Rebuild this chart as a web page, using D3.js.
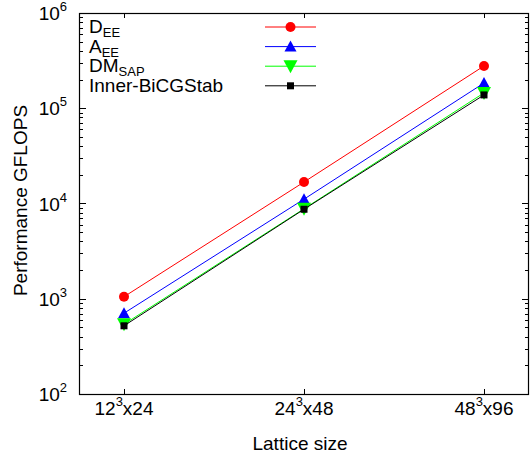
<!DOCTYPE html>
<html>
<head>
<meta charset="utf-8">
<script src="https://cdn.jsdelivr.net/npm/d3@7"></script>
<style>
  body { margin: 0; background: #fff; }
  text { font-family: "Liberation Sans", Arial, sans-serif; fill: #000; }
</style>
</head>
<body>
<div id="chart"></div>
<script>
// lattice sizes L^3 x T
var latticeSpace = ["12", "24", "48"];
var latticeTime = ["24", "48", "96"];

// series (name, subscript) and values in GFLOPS
var seriesMain = ["D", "A", "DM", "Inner-BiCGStab"];
var seriesSub = ["EE", "EE", "SAP", ""];
var seriesColor = ["#ff0000", "#0000ff", "#00ff00", "#000000"];
var seriesShape = ["circle", "up", "down", "square"];

var dEE = [1050, 16800, 278000];
var aEE = [705, 11100, 184000];
var dmSAP = [540, 8800, 145000];
var innerBiCG = [520, 8700, 138000];
var allValues = [dEE, aEE, dmSAP, innerBiCG];

var yTickExp = [2, 3, 4, 5, 6];

var svgWidth = 532, svgHeight = 457;
var margin = { top: 13, right: 3, bottom: 63, left: 79 };
var width = svgWidth - margin.left - margin.right;
var height = svgHeight - margin.top - margin.bottom;

var svg = d3.select("#chart").append("svg")
    .attr("width", svgWidth)
    .attr("height", svgHeight);

var g = svg.append("g")
    .attr("transform", `translate(${margin.left}, ${margin.top})`);

var x = d3.scalePoint()
    .domain(latticeSpace)
    .range([0, width])
    .padding(0.25);

var y = d3.scaleLog()
    .domain([1e2, 1e6])
    .range([height, 0]);

// ticks (mirrored on all sides)
var minorVals = [];
for (var e = 2; e < 6; e++) {
    for (var m = 2; m <= 9; m++) minorVals.push(m * Math.pow(10, e));
}
var majorVals = yTickExp.map(function (d) { return Math.pow(10, d); });

var ticks = g.append("g").attr("stroke", "#000").attr("stroke-width", 1);
majorVals.forEach(function (v) {
    var yy = Math.round(y(v)) + 0.5;
    ticks.append("line").attr("x1", 0).attr("x2", 7).attr("y1", yy).attr("y2", yy);
    ticks.append("line").attr("x1", width - 7).attr("x2", width).attr("y1", yy).attr("y2", yy);
});
minorVals.forEach(function (v) {
    var yy = Math.round(y(v)) + 0.5;
    ticks.append("line").attr("x1", 0).attr("x2", 4).attr("y1", yy).attr("y2", yy);
    ticks.append("line").attr("x1", width - 4).attr("x2", width).attr("y1", yy).attr("y2", yy);
});
latticeSpace.forEach(function (d) {
    var xx = Math.round(x(d)) + 0.5;
    ticks.append("line").attr("x1", xx).attr("x2", xx).attr("y1", height).attr("y2", height - 5);
    ticks.append("line").attr("x1", xx).attr("x2", xx).attr("y1", 0).attr("y2", 5);
});

// frame
g.append("rect")
    .attr("x", 0.5).attr("y", 0.5)
    .attr("width", width - 1).attr("height", height)
    .attr("fill", "none").attr("stroke", "#000").attr("stroke-width", 1.2);

// y tick labels 10^n
yTickExp.forEach(function (e) {
    var t = g.append("text")
        .attr("x", -12).attr("y", y(Math.pow(10, e)) + 7)
        .attr("text-anchor", "end")
        .style("font-size", "19px");
    t.append("tspan").text("10");
    t.append("tspan").attr("dy", -9).style("font-size", "13px").text(e);
});

// x tick labels L^3xT
latticeSpace.forEach(function (d, i) {
    var t = g.append("text")
        .attr("x", x(d)).attr("y", height + 21)
        .attr("text-anchor", "middle")
        .style("font-size", "19px");
    t.append("tspan").text(d);
    t.append("tspan").attr("dy", -9).style("font-size", "13px").text("3");
    t.append("tspan").attr("dy", 9).text("x" + latticeTime[i]);
});

// axis titles
g.append("text")
    .attr("x", width / 2 - 4).attr("y", height + 56)
    .attr("text-anchor", "middle")
    .style("font-size", "19px")
    .text("Lattice size");

g.append("text")
    .attr("transform", `translate(${-52}, ${height / 2 - 3}) rotate(-90)`)
    .attr("text-anchor", "middle")
    .style("font-size", "19px")
    .text("Performance GFLOPS");

// markers
function drawMarker(sel, shape, color, cx, cy) {
    if (shape === "circle") {
        sel.append("circle").attr("cx", cx).attr("cy", cy).attr("r", 5).attr("fill", color);
    } else if (shape === "up") {
        sel.append("path")
            .attr("d", `M${cx - 6},${cy + 5}L${cx + 6},${cy + 5}L${cx},${cy - 6}Z`)
            .attr("fill", color);
    } else if (shape === "down") {
        sel.append("path")
            .attr("d", `M${cx - 7},${cy - 6}L${cx + 7},${cy - 6}L${cx},${cy + 7}Z`)
            .attr("fill", color);
    } else {
        sel.append("rect").attr("x", cx - 3.5).attr("y", cy - 3.5)
            .attr("width", 7).attr("height", 7).attr("fill", color);
    }
}

var line = d3.line()
    .x(function (d, i) { return x(latticeSpace[i]); })
    .y(function (d) { return y(d); });

allValues.forEach(function (vals, s) {
    var sg = g.append("g");
    sg.append("path")
        .attr("d", line(vals))
        .attr("fill", "none")
        .attr("stroke", seriesColor[s])
        .attr("stroke-width", 1);
    vals.forEach(function (v, i) {
        drawMarker(sg, seriesShape[s], seriesColor[s], x(latticeSpace[i]), y(v));
    });
});

// legend
var legend = svg.append("g");
seriesMain.forEach(function (name, s) {
    var ly = 27 + s * 19.6;
    var t = legend.append("text")
        .attr("x", 89).attr("y", ly + 6)
        .style("font-size", "19px");
    t.append("tspan").text(name);
    if (seriesSub[s]) {
        t.append("tspan").attr("dy", 4).style("font-size", "13px").text(seriesSub[s]);
    }
    legend.append("line")
        .attr("x1", 265).attr("x2", 316)
        .attr("y1", ly).attr("y2", ly)
        .attr("stroke", seriesColor[s]).attr("stroke-width", 1);
    drawMarker(legend, seriesShape[s], seriesColor[s], 290.5, ly);
});
</script>
</body>
</html>
